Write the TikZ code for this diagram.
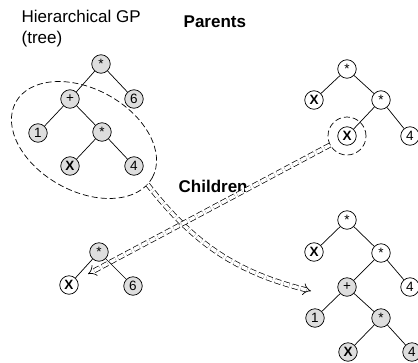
\documentclass[tikz,border=0pt]{standalone}
\usepackage{fontspec}
\setmainfont{Liberation Sans}
\usetikzlibrary{arrows.meta,shapes.geometric}
\begin{document}
\begin{tikzpicture}[x=1pt,y=1pt,line width=.7pt,
    gp/.style={circle,draw,minimum size=18.5pt,inner sep=0pt,fill=white,
      font=\fontsize{13.5}{13.5}\selectfont},
    sel/.style={gp,fill=black!13},
    cut/.style={draw,dash pattern=on 6pt off 3pt},
    xfer/.style={draw,dash pattern=on 6pt off 3pt,double,double distance=3.5pt,-{Implies[scale=1.5]}},
    head/.style={anchor=base west,font=\fontsize{17}{21}\selectfont\bfseries}]

  \useasboundingbox (0,0) rectangle (418,-362);

  % labels
  \node[anchor=base west,font=\fontsize{17}{21}\selectfont] (hgp) at (18,-22) {Hierarchical GP};
  \node[anchor=base west,font=\fontsize{17}{21}\selectfont] (hgt) at (18,-43) {(tree)};
  \node[head] (par) at (180,-27) {Parents};
  \node[head] (chi) at (175,-192) {Children};

  % selected subtrees
  \node[cut,ellipse,inner sep=0pt,minimum width=156pt,minimum height=102pt,rotate=-29] (sub) at (84,-140) {};
  \node[cut,circle,inner sep=0pt,minimum size=38pt] (ring) at (347,-136) {};

  \coordinate (insA) at (311,-291);
  \coordinate (insB) at (88,-274);

  \path[xfer] (sub.-6) to[out=-52,in=166] (insA);
  \path[xfer] (ring) -- (insB);

  \begin{scope}[every node/.style={gp}]
    % parent 1
    \node[sel] (t1) at (101,-64)  {*};
    \node[sel] (t2) at (70,-99)   {+};
    \node[sel] (t3) at (134,-99)  {6};
    \node[sel] (t4) at (38,-133)  {1};
    \node[sel] (t5) at (102,-132) {*};
    \node[sel] (t6) at (70,-166)  {\textbf{X}};
    \node[sel] (t7) at (134,-166) {4};
    % parent 2
    \node (p1) at (347,-69)  {*};
    \node (p2) at (314,-100) {\textbf{X}};
    \node (p3) at (381,-100) {*};
    \node (p4) at (347,-136) {\textbf{X}};
    \node (p5) at (410,-136) {4};
    % child 1
    \node[sel] (c1) at (99,-252)  {*};
    \node      (c2) at (69,-285)  {\textbf{X}};
    \node[sel] (c3) at (133,-286) {6};
    % child 2
    \node      (d1) at (347,-220) {*};
    \node      (d2) at (314,-252) {\textbf{X}};
    \node      (d3) at (381,-253) {*};
    \node[sel] (d4) at (347,-287) {+};
    \node      (d5) at (410,-287) {4};
    \node[sel] (d6) at (315,-318) {1};
    \node[sel] (d7) at (381,-318) {*};
    \node[sel] (d8) at (348,-352) {\textbf{X}};
    \node[sel] (d9) at (412,-352) {4};
  \end{scope}

  \begin{scope}[every edge/.style={draw}]
    \path (t1) edge (t2);
    \path (t1) edge (t3);
    \path (t2) edge (t4);
    \path (t2) edge (t5);
    \path (t5) edge (t6);
    \path (t5) edge (t7);
    \path (p1) edge (p2);
    \path (p1) edge (p3);
    \path (p3) edge (p4);
    \path (p3) edge (p5);
    \path (c1) edge (c2);
    \path (c1) edge (c3);
    \path (d1) edge (d2);
    \path (d1) edge (d3);
    \path (d3) edge (d4);
    \path (d3) edge (d5);
    \path (d4) edge (d6);
    \path (d4) edge (d7);
    \path (d7) edge (d8);
    \path (d7) edge (d9);
  \end{scope}

\end{tikzpicture}
\end{document}
